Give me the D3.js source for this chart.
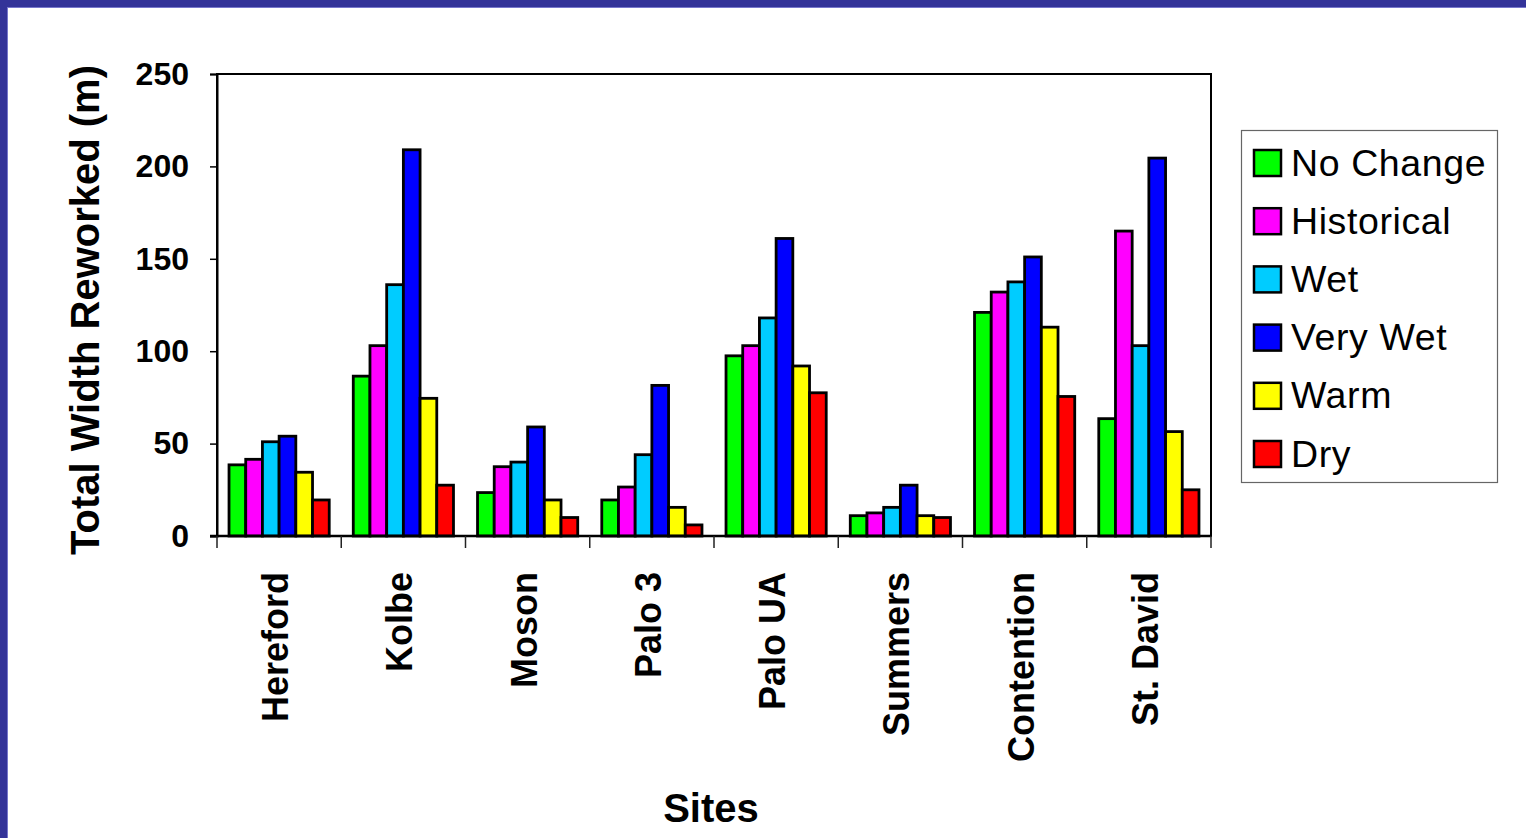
<!DOCTYPE html>
<html>
<head>
<meta charset="utf-8">
<script src="https://cdn.jsdelivr.net/npm/d3@7"></script>
<style>
  html, body { margin: 0; padding: 0; background: #ffffff; }
  svg { display: block; }
  text { font-family: "Liberation Sans", Arial, Helvetica, sans-serif; }
</style>
</head>
<body>
<svg id="chart" width="1526" height="838"></svg>
<script>
const sites = ["Hereford", "Kolbe", "Moson", "Palo 3", "Palo UA", "Summers", "Contention", "St. David"];
const seriesNames = ["No Change", "Historical", "Wet", "Very Wet", "Warm", "Dry"];
const seriesColors = ["#00ff00", "#ff00ff", "#00ccff", "#0000ff", "#ffff00", "#ff0000"];
const noChange   = [38.5, 86.5, 23.5, 19.5, 97.5, 11, 121, 63.5];
const historical = [41.5, 103, 37.5, 26.5, 103, 12.5, 132, 165];
const wet        = [51, 136, 40, 44, 118, 15.5, 137.5, 103];
const veryWet    = [54, 209, 59, 81.5, 161, 27.5, 151, 204.5];
const warm       = [34.5, 74.5, 19.5, 15.5, 92, 11, 113, 56.5];
const dry        = [19.5, 27.5, 10, 6, 77.5, 10, 75.5, 25];
const yTicks = [0, 50, 100, 150, 200, 250];
const yTitle = "Total Width Reworked (m)";
const xTitle = "Sites";

const seriesValues = [noChange, historical, wet, veryWet, warm, dry];

const svg = d3.select("#chart");
const W = 1526, H = 838;

svg.append("rect").attr("x", 0).attr("y", 0).attr("width", W).attr("height", H).attr("fill", "#ffffff");
svg.append("rect").attr("x", 0).attr("y", 0).attr("width", W).attr("height", 7).attr("fill", "#333399");
svg.append("rect").attr("x", 0).attr("y", 0).attr("width", 7).attr("height", H).attr("fill", "#333399");
svg.append("line").attr("x1", 7).attr("x2", W).attr("y1", 7.5).attr("y2", 7.5).attr("stroke", "#7777cc").attr("stroke-width", 1);
svg.append("line").attr("x1", 7.5).attr("x2", 7.5).attr("y1", 7).attr("y2", H).attr("stroke", "#7777cc").attr("stroke-width", 1);

const plot = { left: 217, right: 1211, top: 74, bottom: 536 };

const x0 = d3.scaleBand().domain(sites).range([plot.left, plot.right]).paddingInner(0).paddingOuter(0);
const x1 = d3.scaleBand().domain(seriesNames).range([0, x0.bandwidth()]).paddingInner(0).paddingOuter(0.72);
const y = d3.scaleLinear().domain([0, 250]).range([plot.bottom, plot.top]);

const groups = svg.append("g").selectAll("g")
  .data(sites)
  .join("g")
  .attr("transform", d => `translate(${x0(d)},0)`);

groups.selectAll("rect")
  .data((site, i) => seriesNames.map((s, j) => ({ s, j, v: seriesValues[j][i] })))
  .join("rect")
  .attr("x", d => x1(d.s))
  .attr("y", d => y(d.v))
  .attr("width", x1.bandwidth())
  .attr("height", d => y(0) - y(d.v))
  .attr("fill", d => seriesColors[d.j])
  .attr("stroke", "#000")
  .attr("stroke-width", 2.8);

svg.append("rect")
  .attr("x", plot.left).attr("y", plot.top)
  .attr("width", plot.right - plot.left).attr("height", plot.bottom - plot.top)
  .attr("fill", "none").attr("stroke", "#000").attr("stroke-width", 2);

const yAxis = d3.axisLeft(y).tickValues(yTicks).tickSize(7).tickPadding(21).tickFormat(d3.format("d"));
const yg = svg.append("g").attr("transform", `translate(${plot.left},0)`).call(yAxis);
yg.select(".domain").attr("stroke", "#000").attr("stroke-width", 2);
yg.selectAll(".tick line").attr("stroke", "#000").attr("stroke-width", 1.5);
yg.selectAll(".tick text")
  .attr("font-size", 32).attr("font-weight", "bold").attr("fill", "#000")
  .attr("font-family", '"Liberation Sans", Arial, sans-serif');

svg.append("line").attr("x1", plot.left - 7).attr("x2", plot.right)
  .attr("y1", plot.bottom).attr("y2", plot.bottom)
  .attr("stroke", "#000").attr("stroke-width", 2.5);
const boundaries = sites.map(s => x0(s)).concat([x0(sites[sites.length - 1]) + x0.bandwidth()]);
svg.append("g").selectAll("line").data(boundaries).join("line")
  .attr("x1", d => d).attr("x2", d => d)
  .attr("y1", plot.bottom).attr("y2", plot.bottom + 12)
  .attr("stroke", "#222").attr("stroke-width", 1.5);

svg.append("g").selectAll("text").data(sites).join("text")
  .attr("transform", d => `translate(${x0(d) + x0.bandwidth() / 2 + 9},572) rotate(-90)`)
  .attr("text-anchor", "end")
  .attr("font-size", 36).attr("font-weight", "bold").attr("fill", "#000")
  .text(d => d);

svg.append("text")
  .attr("transform", `translate(99,310) rotate(-90)`)
  .attr("text-anchor", "middle")
  .attr("font-size", 40).attr("font-weight", "bold").attr("fill", "#000")
  .text(yTitle);

svg.append("text")
  .attr("x", 711).attr("y", 822)
  .attr("text-anchor", "middle")
  .attr("font-size", 40).attr("font-weight", "bold").attr("fill", "#000")
  .text(xTitle);

const legend = svg.append("g");
legend.append("rect")
  .attr("x", 1241.5).attr("y", 130.5).attr("width", 256).attr("height", 352)
  .attr("fill", "#fff").attr("stroke", "#666").attr("stroke-width", 1.2);
const items = legend.selectAll("g.item").data(seriesNames).join("g")
  .attr("class", "item")
  .attr("transform", (d, i) => `translate(0,${163 + i * 58.2})`);
items.append("rect")
  .attr("x", 1254).attr("y", -13).attr("width", 27).attr("height", 26)
  .attr("fill", (d, i) => seriesColors[i]).attr("stroke", "#000").attr("stroke-width", 2.5);
items.append("text")
  .attr("x", 1291).attr("y", 12.5)
  .attr("font-size", 37.5).attr("letter-spacing", 0.6).attr("fill", "#000")
  .text(d => d);
</script>
</body>
</html>
